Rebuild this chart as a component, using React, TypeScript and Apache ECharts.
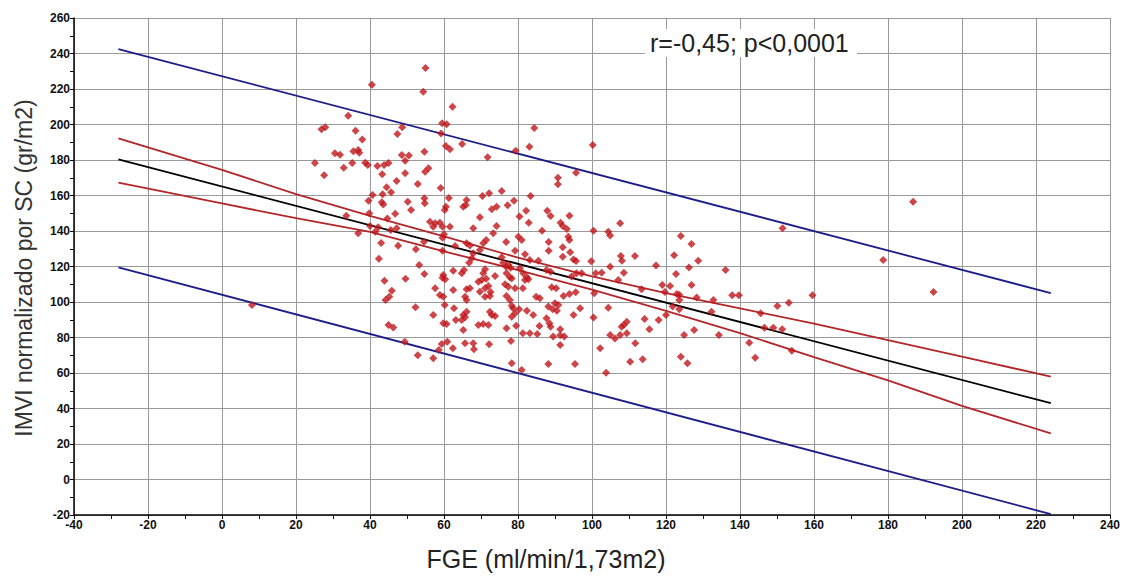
import React, { useEffect, useRef } from "react";
import * as echarts from "echarts";

// Patient points: [FGE, IMVI]
const patientPoints: [number, number][] = [
  [40.5,222.4],[55,231.8],[54.4,218.5],[34.1,205],[48.7,198.4],[26.9,197.3],[27.9,198.4],[36.1,196.5],[47.4,194.6],[37.9,191.6],
  [30.5,183.8],[31.9,183],[35.5,184.9],[36.8,185.6],[37.1,184.1],[48.6,182.8],[50.5,182.6],[49.5,179.6],[54.7,184.7],[25.1,178.3],
  [27.6,171.4],[32.9,175.7],[35.2,178.3],[38.7,178.5],[39.4,177.2],[42,176.6],[43.8,177.2],[45,178.3],[43.3,172],[54.9,173.4],
  [55.8,175.3],[47.2,168.2],[49.5,172.5],[52.9,166.5],[44.5,164.6],[45.7,161.8],[43.4,160.7],[40.7,160.3],[39.6,157.1],[43.2,156.2],
  [43.6,155],[50.2,156.5],[54.7,158.4],[54.8,155.6],[51.1,151.8],[46.8,149.7],[39.8,150],[33.6,148.6],[44.7,147.1],[40,142.8],
  [41.4,139.6],[42.2,142.1],[45.6,140.6],[47.2,141.5],[36.8,138.7],[54.6,134],[47.6,131.7],[43,133.2],[52.4,129.7],[42.4,124.4],
  [53.3,120.8],[54.7,115.8],[43.9,112],[49.6,113.1],[45.9,106.4],[45.2,103],[44.2,101.1],[52.3,97],[8.1,98.3],[45,87],
  [46.3,85.7],[49.4,77.6],[52.9,70],
  [62.3,210],[59.5,200.7],[60.7,200.1],[84.4,198],[59.2,195],[60.5,187.9],[61.6,186],[64.9,189],[79.4,185.2],[83.1,187.5],
  [100.2,188.5],[71.8,181.5],[90.8,170],[90.8,166.3],[59.1,164.2],[61.3,158.6],[70.4,159.7],[72.2,161.2],[75.6,162.5],[83.4,159.7],
  [66.1,157.5],[65.2,153.7],[65.9,154.6],[60.2,151.8],[60.5,153.7],[72.9,152.2],[74.2,153.7],[77.2,154.5],[78.9,157.1],[82.2,151.4],
  [87.9,151.4],[88.8,148.5],[80.4,148.1],[69.7,147.7],[93.9,148.6],[56.2,145.2],[57.6,144.3],[57.1,142.4],[58.9,144.7],[59.6,142.4],
  [61.6,142.4],[60,138.1],[59.6,136.2],[67.9,141.5],[74.2,142.8],[82.9,144.7],[91.5,144.7],[92.1,142.8],[107.6,144.3],[73.3,138.7],
  [80.1,136.8],[81,134.9],[86.5,140.2],[93.2,141.1],[93.6,136.8],[93.9,134.9],[100.4,140.2],[104.4,139.6],[104.9,137.4],[63,131.5],
  [66.1,133.1],[67,131.9],[70.6,133.1],[71.4,134.9],[76.8,133.8],[88.3,133.8],[88.3,128.9],[92.1,130.8],[59.6,128.9],[67.9,127.4],
  [69.7,129.3],[67.5,124.6],[66.8,122.1],[75.6,125.2],[79.2,128.9],[81.9,126.9],[85.5,123.3],[92.1,125.5],[94.1,128],[95,124],
  [95.7,123.1],[99.8,122.9],[107.8,125.9],[108.1,123.3],[104.9,119.9],[59.8,115.2],[59.6,113.7],[60.3,112.8],[62.5,117.6],[64.8,116.2],
  [65.4,118],[71.1,118.4],[70.6,116.2],[69.3,111.4],[70.2,112.4],[71.4,113.1],[73.8,114.6],[76,122.1],[76.8,119.9],[77.4,120.8],
  [78,119.3],[76.9,116.2],[77.8,113.9],[78.3,113.3],[80.5,119],[81.4,116.2],[82.4,113.9],[82.8,112.8],[81.9,112.4],[83.2,123.7],
  [87.7,118],[88.8,117],[94.5,114.3],[95.8,116.2],[97.2,116.2],[101,116.2],[102.6,116.5],[100.6,104.9],[107.1,112.4],[108.6,116.5],
  [57.6,107.7],[62.5,106.8],[66.1,107.2],[67,107.7],[69.7,105.8],[71.1,107.7],[72,109],[72.6,105.6],[76.5,110],[77.4,108.6],
  [79.2,107.7],[81.3,107.7],[89.1,108.3],[90.3,107.7],[58.9,103.9],[59.8,103],[65.7,103],[66.1,101.1],[71.1,103],[72.4,103.4],
  [76.9,103.4],[77.8,101.1],[78.3,97.9],[78.7,96.5],[80.3,95.9],[84.9,103],[85.9,102.1],[92.3,103.4],[93.9,104.5],[95.6,105.5],
  [88.2,97.4],[89.4,95.9],[90,99.3],[90.9,98.3],[90.5,95.1],[57.1,92.7],[60.2,98.3],[62.7,96.5],[65.2,92.7],[66.1,94.5],
  [64.8,89.9],[65.7,91.4],[72.4,94.5],[72.9,92.7],[73.8,92.1],[78.3,91.7],[79.2,93.6],[82.4,95.1],[84.1,92.7],[87.7,90.8],
  [88.5,88],[88.8,86.1],[95,92.7],[96.8,96.5],[100.4,91.2],[104.4,96.8],[109.4,88.9],[108.6,87],[59.8,88],[60.7,87.6],
  [63.2,89.9],[69.3,87],[70.6,87.6],[72,87],[76.9,85.2],[79.5,86.6],[81.3,82.4],[83.2,82.4],[85.2,82],[85.8,86.5],
  [91.4,84.6],[89.5,80.5],[91.4,81.2],[92.5,80.5],[65.2,84.2],[91.4,75.8],[104.9,81.4],[106.2,79.5],[107.6,81.4],[109.4,82.4],
  [108,86.1],[65.7,76.7],[67.9,76.7],[68.1,73.4],[72.2,76.2],[78.1,78],[102.2,73.9],[59.4,76.3],[60.9,77.6],[62.4,73.9],
  [57.1,68.3],[78.3,65.5],[88.2,65.1],[95.4,65.1],[103.8,60.2],[95.7,172.8],[58.6,73],[81,61.7],
  [124,137.2],[126.9,132.7],[111.6,125.9],[122.2,126.3],[128.7,123.3],[117.3,120.5],[126.2,119.5],[136.1,118],[122.7,115.8],[119,109.6],
  [121.1,109],[119.7,105.6],[126.9,109.6],[113.4,107.2],[122.9,104.5],[123.6,104.1],[123.6,101.1],[128.3,102.6],[132.8,101.1],[132.3,94.5],
  [137.9,103.8],[139.7,103.8],[121.8,97.4],[123.6,95.9],[120,92.7],[114.2,90.4],[118,89.9],[115.5,84.6],[127.6,84.2],[124.9,81.4],
  [134.3,81.4],[111.7,76.7],[145.6,93.6],[150.1,97.7],[153.2,99.6],[159.6,103.8],[151.5,141.5],[146.6,85.5],[149,85.5],[151.4,84.6],
  [142.5,77.1],[154,72.6],[124,69.2],[144.1,68.6],[113.7,67.7],[125.8,65.5],[110.3,66.4],
  [186.8,156.5],[178.7,123.7],[192.3,105.6],
];

// Regression line (black)
const fitX = [-28, 224];
const fitY = [180.3, 43];
// Confidence band (red)
const ciX = [-28, 0, 20, 40, 60, 80, 100, 120, 140, 160, 180, 200, 224];
const ciUpper = [192.2, 174.4, 160.8, 148.5, 137, 125, 114.5, 105, 96.4, 87.8, 78.5, 69.2, 58];
const ciLower = [167.2, 155.5, 147.2, 139.5, 128.5, 118, 107, 95, 82.5, 69, 55.8, 41.5, 26];
// Prediction band (blue)
const piX = [-28, 224];
const piUpper = [242.5, 105];
const piLower = [119.5, -19.5];

const annotation = "r=-0,45; p<0,0001";
const xTitle = "FGE (ml/min/1,73m2)";
const yTitle = "IMVI normalizado por SC (gr/m2)";

const zip = (xs: number[], ys: number[]) => xs.map((x, i) => [x, ys[i]]);

export default function App() {
  const ref = useRef<HTMLDivElement>(null);
  useEffect(() => {
    if (!ref.current) return;
    const chart = echarts.init(ref.current, undefined, { renderer: "svg" });
    const font = "Liberation Sans, Arial, sans-serif";
    const axisCommon = {
      type: "value" as const,
      interval: 20,
      axisLine: { show: true, onZero: false, lineStyle: { color: "#000", width: 1.5 } },
      axisTick: { show: true, length: 4, lineStyle: { color: "#000" } },
      minorTick: { show: true, splitNumber: 2, length: 4, lineStyle: { color: "#000" } },
      splitLine: { show: true, lineStyle: { color: "#9a9a9a", width: 1 } },
      axisLabel: { fontWeight: "bold" as const, fontSize: 12, color: "#111", fontFamily: font, margin: 4 },
    };
    const lineSeries = (data: number[][], color: string) => ({
      type: "line" as const,
      data,
      symbol: "none",
      lineStyle: { color, width: 1.8 },
      z: 2,
    });
    chart.setOption({
      animation: false,
      backgroundColor: "#fff",
      grid: { left: 74, right: 13, top: 18, bottom: 61 },
      xAxis: { ...axisCommon, min: -40, max: 240 },
      yAxis: { ...axisCommon, min: -20, max: 260 },
      graphic: [
        {
          type: "text",
          x: 546,
          y: 559,
          style: { text: xTitle, font: `25px ${font}`, fill: "#222", align: "center", verticalAlign: "middle" },
        },
        {
          type: "text",
          x: 24,
          y: 268,
          rotation: Math.PI / 2,
          style: { text: yTitle, font: `23px ${font}`, fill: "#333", align: "center", verticalAlign: "middle" },
        },
        {
          type: "rect",
          shape: { x: 645, y: 29, width: 212, height: 28 },
          style: { fill: "#fff" },
          z: 10,
        },
        {
          type: "text",
          x: 650,
          y: 43,
          z: 11,
          style: { text: annotation, font: `25px ${font}`, fill: "#222", align: "left", verticalAlign: "middle" },
        },
      ],
      series: [
        lineSeries(zip(piX, piUpper), "#1c1c8a"),
        lineSeries(zip(piX, piLower), "#1c1c8a"),
        lineSeries(zip(ciX, ciUpper), "#b3262a"),
        lineSeries(zip(ciX, ciLower), "#b3262a"),
        lineSeries(zip(fitX, fitY), "#000"),
        {
          type: "scatter",
          data: patientPoints,
          symbol: "diamond",
          symbolSize: 8,
          itemStyle: { color: "#c0161b" },
          z: 3,
        },
      ],
    });
    return () => chart.dispose();
  }, []);
  return (
    <div
      ref={ref}
      style={{ position: "absolute", left: 0, top: 0, width: 1123, height: 576 }}
    />
  );
}
